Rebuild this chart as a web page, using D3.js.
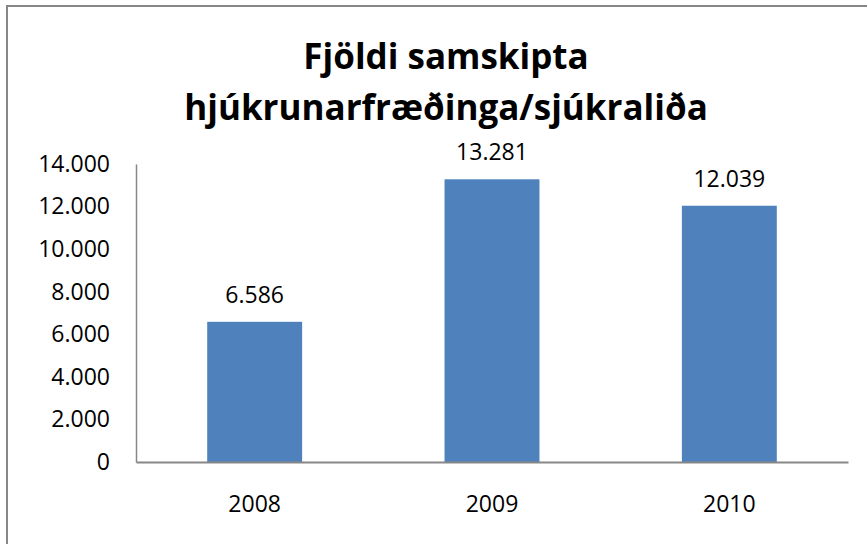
<!DOCTYPE html>
<html>
<head>
<meta charset="utf-8">
<script src="https://cdn.jsdelivr.net/npm/d3@7"></script>
<style>
  html, body { margin: 0; padding: 0; background: #fff; }
  svg { display: block; }
  text { font-family: "Open Sans", sans-serif; }
</style>
</head>
<body>
<svg id="chart" width="867" height="544"></svg>
<script>
const titleLines = ["Fjöldi samskipta", "hjúkrunarfræðinga/sjúkraliða"];
const categories = ["2008", "2009", "2010"];
const values = [6586, 13281, 12039];
const yTicks = [0, 2000, 4000, 6000, 8000, 10000, 12000, 14000];

const W = 867, H = 544;
const plot = { left: 136, right: 848, top: 164, bottom: 462 };
const svg = d3.select("#chart");

// outer chart border (extends past right/bottom edge)
svg.append("rect")
  .attr("x", 7).attr("y", 6)
  .attr("width", W + 20).attr("height", H + 20)
  .attr("fill", "#fff")
  .attr("stroke", "#878787").attr("stroke-width", 2);

const fmt = v => d3.format(",")(v).replace(/,/g, ".");

const x = d3.scaleBand().domain(categories)
  .range([plot.left, plot.right])
  .paddingInner(0.6).paddingOuter(0.3);
const y = d3.scaleLinear().domain([0, 14000]).range([plot.bottom, plot.top]);

// title
const title = svg.append("g");
titleLines.forEach((t, i) => {
  title.append("text")
    .attr("x", 446).attr("y", 69 + i * 51)
    .attr("text-anchor", "middle")
    .attr("font-size", 35).attr("font-weight", 700)
    .attr("fill", "#000")
    .text(t);
});

// bars
svg.append("g").selectAll("rect")
  .data(values)
  .join("rect")
  .attr("x", (d, i) => x(categories[i]))
  .attr("width", x.bandwidth())
  .attr("y", d => y(d))
  .attr("height", d => y(0) - y(d))
  .attr("fill", "#4F81BD");

// data labels
svg.append("g").selectAll("text")
  .data(values)
  .join("text")
  .attr("x", (d, i) => x(categories[i]) + x.bandwidth() / 2)
  .attr("y", d => y(d) - 19)
  .attr("text-anchor", "middle")
  .attr("font-size", 23)
  .attr("fill", "#000")
  .text(d => fmt(d));

// y axis
const yAxis = svg.append("g")
  .attr("transform", `translate(${plot.left},0)`)
  .call(d3.axisLeft(y).tickValues(yTicks).tickFormat(fmt).tickSize(0).tickPadding(26));
yAxis.select(".domain").attr("stroke", "#878787").attr("stroke-width", 1.5);
yAxis.selectAll("text").attr("font-size", 23).attr("fill", "#000")
  .attr("font-family", "Open Sans, sans-serif");

// x axis
const xAxis = svg.append("g")
  .attr("transform", `translate(0,${plot.bottom})`)
  .call(d3.axisBottom(x).tickSize(0).tickPadding(34));
xAxis.select(".domain").attr("stroke", "#878787").attr("stroke-width", 2);
xAxis.selectAll("text").attr("font-size", 23).attr("fill", "#000")
  .attr("font-family", "Open Sans, sans-serif");
</script>
</body>
</html>
